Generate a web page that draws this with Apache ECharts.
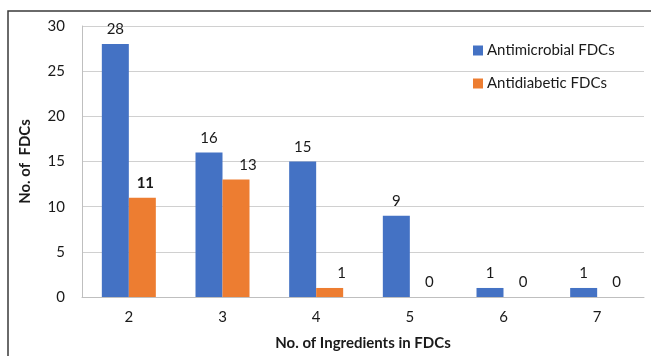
<!DOCTYPE html>
<html>
<head>
<meta charset="utf-8">
<script src="https://cdn.jsdelivr.net/npm/echarts@6/dist/echarts.min.js"></script>
<style>
html,body{margin:0;padding:0;background:#fff;}
#c{width:651px;height:356px;}
</style>
</head>
<body>
<div id="c"></div>
<script>
var categories = ['2', '3', '4', '5', '6', '7'];
var antimicrobial = [28, 16, 15, 9, 1, 1];
var antidiabetic = [11, 13, 1, 0, 0, 0];
var seriesNames = ['Antimicrobial FDCs', 'Antidiabetic FDCs'];
var yTicks = { min: 0, max: 30, interval: 5 };

var FONT = 'Lato, "Open Sans", sans-serif';
var orangeLabelShift = [3, 12, 12, 6, 6, 6];

var chart = echarts.init(document.getElementById('c'), null, { renderer: 'canvas' });
chart.setOption({
  animation: false,
  textStyle: { fontFamily: FONT },
  graphic: [{
    type: 'rect',
    shape: { x: 8, y: 11, width: 660, height: 360 },
    style: { fill: 'none', stroke: '#3a3a3a', lineWidth: 1.5 },
    z: 100
  }],
  grid: { left: 82, top: 26, right: 7, bottom: 58 },
  legend: {
    orient: 'vertical',
    left: 468,
    top: 38,
    itemWidth: 10,
    itemHeight: 10,
    itemGap: 18,
    icon: 'rect',
    textStyle: { fontSize: 15, color: '#1a1a1a', fontFamily: FONT, padding: [0, 0, 0, -1] },
    data: seriesNames
  },
  xAxis: {
    type: 'category',
    data: categories,
    name: 'No. of Ingredients in FDCs',
    nameLocation: 'middle',
    nameGap: 39,
    nameTextStyle: { fontSize: 15, fontWeight: 'bold', color: '#1a1a1a', fontFamily: FONT },
    axisLine: { lineStyle: { color: '#bfbfbf', width: 1 } },
    axisTick: { show: false },
    axisLabel: { fontSize: 15, color: '#1a1a1a', margin: 13, fontFamily: FONT }
  },
  yAxis: {
    type: 'value',
    min: yTicks.min,
    max: yTicks.max,
    interval: yTicks.interval,
    name: 'No. of  FDCs',
    nameLocation: 'middle',
    nameGap: 49,
    nameRotate: 90,
    nameTextStyle: { fontSize: 15, fontWeight: 'bold', color: '#1a1a1a', fontFamily: FONT },
    axisLine: { show: true, lineStyle: { color: '#bfbfbf', width: 1 } },
    axisTick: { show: false },
    splitLine: { lineStyle: { color: '#d0d0d0', width: 1 } },
    axisLabel: { fontSize: 15, color: '#1a1a1a', margin: 17, fontFamily: FONT }
  },
  series: [
    {
      name: seriesNames[0],
      type: 'bar',
      barWidth: 27,
      barGap: '0%',
      itemStyle: { color: '#4472C4' },
      label: { show: true, position: 'top', distance: 7, fontSize: 15, color: '#1a1a1a', fontFamily: FONT },
      data: antimicrobial
    },
    {
      name: seriesNames[1],
      type: 'bar',
      barWidth: 27,
      barGap: '0%',
      itemStyle: { color: '#ED7D31' },
      label: { show: true, position: 'top', distance: 7, fontSize: 15, color: '#1a1a1a', fontFamily: FONT },
      data: antidiabetic.map(function (v, i) {
        var lbl = { offset: [orangeLabelShift[i], 0] };
        if (i === 0) lbl.fontWeight = 'bold';
        return { value: v, label: lbl };
      })
    }
  ]
});
</script>
</body>
</html>
